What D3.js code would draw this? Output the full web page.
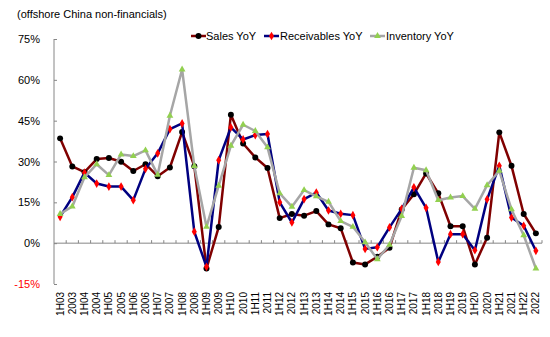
<!DOCTYPE html>
<html><head><meta charset="utf-8">
<script src="https://cdn.jsdelivr.net/npm/d3@7"></script>
<style>body{margin:0;background:#fff}svg{display:block;font-family:"Liberation Sans",Arial,sans-serif}</style>
</head><body>
<div id="chart"></div>
<script>
const categories = ["1H03","2003","1H04","2004","1H05","2005","1H06","2006","1H07","2007","1H08","2008","1H09","2009","1H10","2010","1H11","2011","1H12","2012","1H13","2013","1H14","2014","1H15","2015","1H16","2016","1H17","2017","1H18","2018","1H19","2019","1H20","2020","1H21","2021","1H22","2022"];
const salesYoY = [38.5,28.2,26.1,30.9,31.3,29.9,26.5,29.0,24.6,27.8,40.8,28.3,-9.3,5.9,47.2,36.6,31.5,27.6,9.2,10.7,10.1,11.8,6.9,5.5,-7.1,-7.8,-5.0,-1.7,12.4,18.0,25.6,18.3,6.2,6.2,-7.8,2.0,40.7,28.4,10.7,3.6];
const receivablesYoY = [9.7,16.9,25.9,21.9,20.8,20.8,15.8,27.3,33.0,41.9,44.0,4.2,-8.7,30.5,42.5,38.1,39.7,40.1,15.0,7.6,16.2,18.6,12.0,10.8,10.3,-2.1,-1.5,5.8,12.6,20.5,13.0,-6.9,3.3,3.3,-2.6,16.1,28.4,9.4,6.4,-2.8];
const inventoryYoY = [10.7,13.5,24.2,29.0,25.0,32.6,32.0,34.1,25.1,46.8,63.8,28.3,6.0,21.1,35.8,43.5,41.2,35.2,18.3,13.4,19.5,17.2,15.2,8.1,6.0,0.3,-5.9,-0.6,10.0,27.7,26.8,15.8,16.8,17.3,12.6,21.3,26.6,12.4,2.9,-9.3];
const yTicks = [-15,0,15,30,45,60,75];
const seriesNames = ["Sales YoY","Receivables YoY","Inventory YoY"];

const W=550,H=337;
const svg=d3.select("#chart").append("svg").attr("width",W).attr("height",H);
const x=d3.scaleBand().domain(categories).range([54,542]);
const y=d3.scaleLinear().domain([-15,75]).range([284,39]);
const axisColor="#868686";

svg.append("text").attr("x",17).attr("y",18).attr("font-size",11).attr("fill","#000").text("(offshore China non-financials)");

// y axis
const ya=svg.append("g").attr("transform","translate(54,0)")
  .call(d3.axisLeft(y).tickValues(yTicks).tickSize(-3).tickPadding(14).tickFormat(d=>d+"%"));
ya.select(".domain").attr("stroke",axisColor).attr("d","M0,"+y(-15)+"V"+y(75));
ya.selectAll(".tick line").attr("stroke",axisColor);
ya.selectAll(".tick text").attr("font-size",11).attr("font-family","Liberation Sans, Arial, sans-serif")
  .attr("fill",d=>d<0?"#ff0000":"#000");

// x axis at 0
const xg=svg.append("g").attr("transform","translate(0,"+y(0)+")");
xg.append("line").attr("x1",54).attr("x2",542).attr("stroke",axisColor);
xg.selectAll("line.t").data(categories.slice(1).concat(["__end"])).enter().append("line")
  .attr("x1",(d,i)=>54+x.step()*(i+1)).attr("x2",(d,i)=>54+x.step()*(i+1))
  .attr("y1",0).attr("y2",-3).attr("stroke",axisColor);
// x labels
svg.append("g").selectAll("text").data(categories).enter().append("text")
  .attr("transform",d=>"translate("+(x(d)+x.bandwidth()/2+3.5)+",292) rotate(-90)")
  .attr("text-anchor","end").attr("font-size",10).attr("fill","#000").text(d=>d);

const cx=d=>x(d)+x.bandwidth()/2;
const line=d3.line().x((v,i)=>cx(categories[i])).y(v=>y(v));
const series=[
 {name:seriesNames[0],vals:salesYoY,color:"#800000",marker:"circle",mcolor:"#000"},
 {name:seriesNames[1],vals:receivablesYoY,color:"#000080",marker:"diamond",mcolor:"#ff0000"},
 {name:seriesNames[2],vals:inventoryYoY,color:"#a6a6a6",marker:"triangle",mcolor:"#92d050"}
];
const sym={circle:d3.symbol(d3.symbolCircle,28),diamond:d3.symbol(d3.symbolDiamond,22),triangle:d3.symbol(d3.symbolTriangle,20)};
series.forEach(s=>{
  svg.append("path").attr("d",line(s.vals)).attr("fill","none").attr("stroke",s.color).attr("stroke-width",2.5).attr("stroke-linejoin","round");
  svg.append("g").selectAll("path").data(s.vals).enter().append("path")
    .attr("d",sym[s.marker]()).attr("transform",(v,i)=>"translate("+cx(categories[i])+","+y(v)+")").attr("fill",s.mcolor);
});

// legend
const leg=[{x:191,tx:206},{x:264,tx:280},{x:370,tx:386}];
series.forEach((s,i)=>{
  const g=svg.append("g");
  g.append("line").attr("x1",leg[i].x).attr("x2",leg[i].x+15).attr("y1",36).attr("y2",36).attr("stroke",s.color).attr("stroke-width",2.5);
  g.append("path").attr("d",sym[s.marker]()).attr("transform","translate("+(leg[i].x+7.5)+",36)").attr("fill",s.mcolor);
  g.append("text").attr("x",leg[i].tx).attr("y",40).attr("font-size",11).attr("fill","#000").text(s.name);
});
</script>
</body></html>
